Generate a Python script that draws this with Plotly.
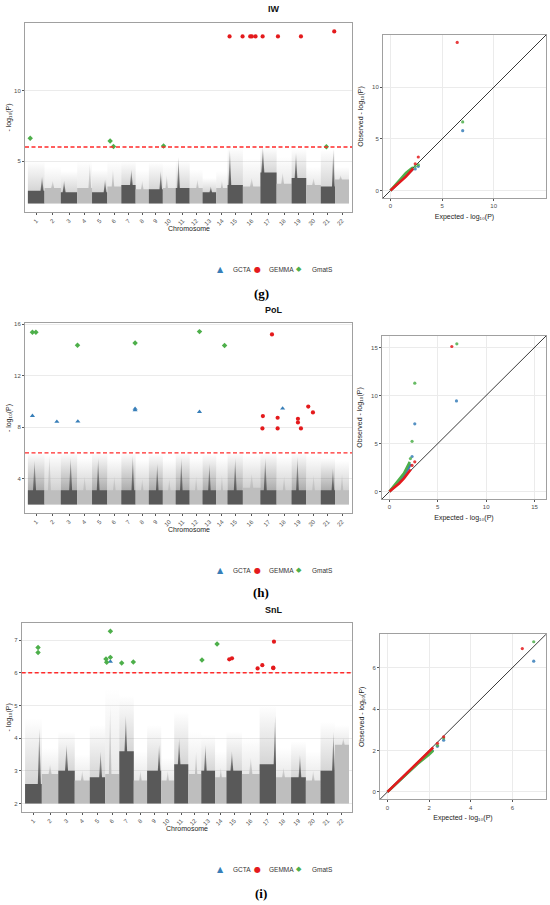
import plotly.graph_objects as go

W, H = 550, 905

# ---------------- data ----------------
chromosomes = [str(i) for i in range(1, 23)]
chr_len = [150, 147, 147, 134, 138, 126, 129, 119, 126, 116, 126, 116,
           123, 102, 138, 158, 146, 135, 132, 131, 128, 126]
min_logp = 2.0
threshold = 6.0
methods = ["GCTA", "GEMMA", "GmatS"]

# background SNP clouds (per chromosome): dense top, tower position (fraction), tower top, sparse top
iw_dense = [2.9, 3.1, 2.8, 3.1, 2.8, 3.2, 3.3, 3.0, 3.0, 3.1, 3.1, 3.1, 2.8, 3.1, 3.3, 3.2, 4.2, 3.4, 3.8, 3.3, 3.2, 3.7]
iw_peak_pos = [0.85, 0.5, 0.2, 0.85, 0.85, 0.4, 0.7, 0.5, 0.85, 0.3, 0.2, 0.6, 0.6, 0.5, 0.15, 0.5, 0.15, 0.4, 0.3, 0.5, 0.88, 0.4]
iw_peak = [3.9, 3.6, 3.6, 4.8, 3.7, 4.4, 4.4, 3.6, 4.3, 4.0, 5.3, 3.7, 3.2, 3.6, 5.8, 3.8, 6.0, 4.2, 5.6, 3.8, 5.9, 4.0]
iw_sparse = [5.0, 4.6, 4.3, 5.0, 4.4, 5.0, 5.0, 4.4, 4.9, 4.8, 5.0, 4.4, 3.8, 4.3, 6.0, 5.2, 6.0, 5.3, 5.9, 4.6, 5.8, 4.6]

pol_dense = [3.1, 3.1, 3.1, 3.1, 3.1, 3.1, 3.1, 3.1, 3.1, 3.1, 3.1, 3.1, 3.1, 3.1, 3.1, 3.3, 3.1, 3.1, 3.1, 3.1, 3.1, 3.1]
pol_peak_pos = [0.4, 0.3, 0.6, 0.5, 0.4, 0.5, 0.8, 0.5, 0.6, 0.5, 0.4, 0.5, 0.5, 0.5, 0.5, 0.5, 0.3, 0.5, 0.4, 0.5, 0.85, 0.5]
pol_peak = [5.4, 5.8, 5.6, 4.2, 5.6, 4.2, 5.8, 4.0, 5.2, 4.0, 5.6, 4.2, 5.2, 4.3, 5.6, 4.4, 5.6, 4.2, 5.7, 4.3, 4.8, 4.4]
pol_sparse = [6.0, 5.9, 6.0, 5.6, 6.0, 5.6, 6.0, 5.5, 5.9, 5.5, 6.0, 5.6, 5.9, 5.6, 6.0, 5.8, 6.0, 5.7, 6.0, 5.8, 5.6, 5.4]

snl_dense = [2.6, 2.9, 3.0, 2.7, 2.8, 2.9, 3.6, 2.7, 3.0, 2.7, 3.2, 2.9, 3.0, 2.8, 3.0, 2.9, 3.2, 2.8, 2.8, 2.7, 3.0, 3.8]
snl_peak_pos = [0.85, 0.5, 0.5, 0.5, 0.7, 0.35, 0.45, 0.5, 0.85, 0.5, 0.35, 0.6, 0.3, 0.5, 0.35, 0.5, 0.95, 0.5, 0.6, 0.5, 0.9, 0.6]
snl_peak = [4.3, 3.2, 3.8, 3.0, 3.6, 5.0, 4.7, 3.0, 3.8, 3.0, 4.0, 3.6, 3.8, 3.1, 3.6, 3.4, 4.7, 3.1, 3.5, 3.0, 4.2, 4.0]
snl_sparse = [4.6, 3.7, 4.2, 3.5, 4.4, 5.5, 5.3, 3.6, 4.4, 3.4, 4.8, 4.2, 4.1, 3.6, 4.2, 4.0, 5.0, 3.7, 3.9, 3.6, 4.5, 4.4]

# significant SNPs: chromosome, position (Mb), -log10(P)
iw_gcta_chr, iw_gcta_pos, iw_gcta_p = [], [], []
iw_gemma_chr = [15, 15, 16, 16, 16, 17, 18, 19, 21]
iw_gemma_pos = [18, 135, 66, 81, 114, 20, 12, 84, 121]
iw_gemma_p = [13.85, 13.85, 13.85, 13.85, 13.85, 13.85, 13.85, 13.85, 14.2]
iw_gmats_chr = [1, 6, 6, 10, 21]
iw_gmats_pos = [21, 25, 55, 6, 50]
iw_gmats_p = [6.62, 6.43, 6.04, 6.08, 6.02]

pol_gcta_chr = [1, 2, 4, 7, 7, 12, 18]
pol_gcta_pos = [41, 111, 6, 124, 124, 88, 54]
pol_gcta_p = [8.88, 8.42, 8.44, 9.43, 9.32, 9.19, 9.45]
pol_gemma_chr = [17, 17, 17, 18, 18, 19, 19, 19, 20, 20]
pol_gemma_pos = [104, 22, 18, 9, 9, 57, 57, 84, 18, 60]
pol_gemma_p = [15.2, 8.86, 7.9, 8.73, 7.9, 8.65, 8.37, 7.9, 9.6, 9.14]
pol_gmats_chr = [1, 1, 4, 7, 12, 14]
pol_gmats_pos = [41, 72, 3, 124, 88, 75]
pol_gmats_p = [15.37, 15.37, 14.36, 14.54, 15.42, 14.34]

snl_gcta_chr = [6]
snl_gcta_pos = [46]
snl_gcta_p = [6.34]
snl_gemma_chr = [15, 15, 16, 17, 17, 17, 17]
snl_gemma_pos = [25, 49, 140, 24, 122, 122, 128]
snl_gemma_p = [6.41, 6.44, 6.13, 6.23, 6.16, 6.14, 6.95]
snl_gmats_chr = [1, 1, 6, 6, 6, 6, 7, 7, 13, 14]
snl_gmats_pos = [116, 116, 7, 13, 46, 46, 21, 125, 6, 18]
snl_gmats_p = [6.77, 6.62, 6.42, 6.32, 7.27, 6.47, 6.3, 6.33, 6.39, 6.88]

# QQ plots: expected vs observed -log10(P); dense body and tail points
iw_qq_gcta_exp = [0, 0.5, 1.0, 1.5, 2.0, 2.2]
iw_qq_gcta_obs = [0, 0.5, 1.0, 1.5, 1.95, 2.1]
iw_qq_gcta_tail_exp = [2.4, 2.7, 7.0]
iw_qq_gcta_tail_obs = [2.1, 2.35, 5.8]
iw_qq_gemma_exp = [0, 0.5, 1.0, 1.5, 2.0, 2.2]
iw_qq_gemma_obs = [0, 0.42, 0.85, 1.35, 1.9, 2.15]
iw_qq_gemma_tail_exp = [2.4, 2.7, 6.47]
iw_qq_gemma_tail_obs = [2.6, 3.25, 14.35]
iw_qq_gmats_exp = [0, 0.5, 1.0, 1.5, 2.0, 2.2]
iw_qq_gmats_obs = [0, 0.58, 1.15, 1.7, 2.1, 2.25]
iw_qq_gmats_tail_exp = [2.4, 2.7, 7.0]
iw_qq_gmats_tail_obs = [2.35, 2.5, 6.65]

pol_qq_gcta_exp = [0, 0.5, 1.0, 1.5, 2.0, 2.2]
pol_qq_gcta_obs = [0, 0.55, 1.1, 1.7, 2.5, 2.9]
pol_qq_gcta_tail_exp = [2.34, 2.62, 6.93]
pol_qq_gcta_tail_obs = [3.65, 7.05, 9.43]
pol_qq_gemma_exp = [0, 0.5, 1.0, 1.5, 2.0, 2.2]
pol_qq_gemma_obs = [0, 0.42, 0.85, 1.38, 2.1, 2.3]
pol_qq_gemma_tail_exp = [2.34, 2.62, 6.45]
pol_qq_gemma_tail_obs = [2.72, 3.1, 15.1]
pol_qq_gmats_exp = [0, 0.5, 1.0, 1.5, 2.0, 2.1]
pol_qq_gmats_obs = [0, 0.62, 1.27, 1.9, 2.9, 3.1]
pol_qq_gmats_tail_exp = [2.17, 2.34, 2.62, 6.97]
pol_qq_gmats_tail_obs = [3.44, 5.23, 11.28, 15.38]

snl_qq_gcta_exp = [0, 0.5, 1.0, 1.5, 2.0, 2.2]
snl_qq_gcta_obs = [0, 0.48, 0.95, 1.4, 1.9, 2.05]
snl_qq_gcta_tail_exp = [2.4, 2.7, 7.03]
snl_qq_gcta_tail_obs = [2.2, 2.5, 6.32]
snl_qq_gemma_exp = [0, 0.5, 1.0, 1.5, 2.0, 2.2]
snl_qq_gemma_obs = [0, 0.5, 1.0, 1.5, 2.0, 2.15]
snl_qq_gemma_tail_exp = [2.4, 2.7, 6.48]
snl_qq_gemma_tail_obs = [2.35, 2.66, 6.93]
snl_qq_gmats_exp = [0, 0.5, 1.0, 1.5, 2.0, 2.2]
snl_qq_gmats_obs = [0, 0.47, 0.93, 1.4, 1.8, 2.0]
snl_qq_gmats_tail_exp = [2.4, 2.7, 7.03]
snl_qq_gmats_tail_obs = [2.25, 2.6, 7.26]

# ---------------- styling / layout ----------------
FONT = "Liberation Sans, DejaVu Sans, Arial, sans-serif"
DARK = (89, 89, 89)
LIGHT = (190, 190, 190)
COLORS = {"GCTA": "#377EB8", "GEMMA": "#E41A1C", "GmatS": "#4DAF4A"}
SYMBOLS = {"GCTA": "triangle-up", "GEMMA": "circle", "GmatS": "diamond"}
MSIZE = {"GCTA": 4.5, "GEMMA": 4.2, "GmatS": 4.2}
LEG_GLYPH = {"GCTA": "\u25B2", "GEMMA": "\u25CF", "GmatS": "\u25C6"}
FRAME = "#a0a0a0"
GRID = "#ebebeb"
LOGP = "- log\u2081\u2080(P)"


def rgba(c, a):
    return f"rgba({c[0]},{c[1]},{c[2]},{a})"


def pxx(x):
    return x / W


def pyy(y):
    return 1 - y / H


def axid(letter, n):
    return letter if n == 1 else f"{letter}{n}"


starts = []
acc = 0
for L in chr_len:
    starts.append(acc)
    acc += L
total_len = acc
centers = [s + L / 2 for s, L in zip(starts, chr_len)]

panels = [
    dict(trait="IW", tag="(g)",
         cloud=(iw_dense, iw_peak_pos, iw_peak, iw_sparse),
         sig={"GCTA": (iw_gcta_chr, iw_gcta_pos, iw_gcta_p),
              "GEMMA": (iw_gemma_chr, iw_gemma_pos, iw_gemma_p),
              "GmatS": (iw_gmats_chr, iw_gmats_pos, iw_gmats_p)},
         qq={"GCTA": (iw_qq_gcta_exp, iw_qq_gcta_obs, iw_qq_gcta_tail_exp, iw_qq_gcta_tail_obs),
             "GEMMA": (iw_qq_gemma_exp, iw_qq_gemma_obs, iw_qq_gemma_tail_exp, iw_qq_gemma_tail_obs),
             "GmatS": (iw_qq_gmats_exp, iw_qq_gmats_obs, iw_qq_gmats_tail_exp, iw_qq_gmats_tail_obs)},
         man_box=(25, 23, 352, 212), qq_box=(383, 35, 546, 198),
         y_range=[1.39, 14.8], y_ticks=[5, 10], qq_range=[-0.72, 15.07], qq_ticks=[0, 5, 10],
         title_y=9, legend_y=269, tag_y=294, alpha=0.25, xpad=(-26, 27)),
    dict(trait="PoL", tag="(h)",
         cloud=(pol_dense, pol_peak_pos, pol_peak, pol_sparse),
         sig={"GCTA": (pol_gcta_chr, pol_gcta_pos, pol_gcta_p),
              "GEMMA": (pol_gemma_chr, pol_gemma_pos, pol_gemma_p),
              "GmatS": (pol_gmats_chr, pol_gmats_pos, pol_gmats_p)},
         qq={"GCTA": (pol_qq_gcta_exp, pol_qq_gcta_obs, pol_qq_gcta_tail_exp, pol_qq_gcta_tail_obs),
             "GEMMA": (pol_qq_gemma_exp, pol_qq_gemma_obs, pol_qq_gemma_tail_exp, pol_qq_gemma_tail_obs),
             "GmatS": (pol_qq_gmats_exp, pol_qq_gmats_obs, pol_qq_gmats_tail_exp, pol_qq_gmats_tail_obs)},
         man_box=(25, 323, 352, 513), qq_box=(382, 336, 546, 499),
         y_range=[1.33, 16.09], y_ticks=[4, 8, 12, 16], qq_range=[-0.77, 16.19], qq_ticks=[0, 5, 10, 15],
         title_y=310, legend_y=570, tag_y=592, alpha=0.5, xpad=(-26, 27)),
    dict(trait="SnL", tag="(i)",
         cloud=(snl_dense, snl_peak_pos, snl_peak, snl_sparse),
         sig={"GCTA": (snl_gcta_chr, snl_gcta_pos, snl_gcta_p),
              "GEMMA": (snl_gemma_chr, snl_gemma_pos, snl_gemma_p),
              "GmatS": (snl_gmats_chr, snl_gmats_pos, snl_gmats_p)},
         qq={"GCTA": (snl_qq_gcta_exp, snl_qq_gcta_obs, snl_qq_gcta_tail_exp, snl_qq_gcta_tail_obs),
             "GEMMA": (snl_qq_gemma_exp, snl_qq_gemma_obs, snl_qq_gemma_tail_exp, snl_qq_gemma_tail_obs),
             "GmatS": (snl_qq_gmats_exp, snl_qq_gmats_obs, snl_qq_gmats_tail_exp, snl_qq_gmats_tail_obs)},
         man_box=(21.7, 622.7, 352, 812), qq_box=(380, 634.3, 546, 799.3),
         y_range=[1.74, 7.53], y_ticks=[2, 3, 4, 5, 6, 7], qq_range=[-0.36, 7.62], qq_ticks=[0, 2, 4, 6],
         title_y=610, legend_y=869, tag_y=893, alpha=0.25, xpad=(-30, 27)),
]

fig = go.Figure()
layout = dict(width=W, height=H, margin=dict(l=0, r=0, t=0, b=0),
              paper_bgcolor="white", plot_bgcolor="white", showlegend=False,
              font=dict(family=FONT, color="#333333"))
annotations = []
shapes = []

tickfont = dict(family=FONT, size=6, color="#4d4d4d")
titlefont = dict(family=FONT, size=7, color="#222222")


def note(text, x, y, size, color="#222222", family=FONT, angle=0, xanchor="center", weight="normal"):
    annotations.append(dict(text=text, x=pxx(x), y=pyy(y), xref="paper", yref="paper",
                            showarrow=False, xanchor=xanchor, yanchor="middle",
                            textangle=angle,
                            font=dict(family=family, size=size, color=color, weight=weight)))


for i, P in enumerate(panels):
    mx, qx = 2 * i + 1, 2 * i + 2
    mxa, mya = axid("x", mx), axid("y", mx)
    qxa, qya = axid("x", qx), axid("y", qx)
    dense, ppos, peak, sparse = P["cloud"]

    # --- Manhattan clouds ---
    for k in range(22):
        s = starts[k]
        L = chr_len[k]
        e = s + L
        col = DARK if k % 2 == 0 else LIGHT
        a = P["alpha"] if k % 2 == 0 else P["alpha"] * 1.4
        # faint scattered layer
        f_s = (dense[k] - min_logp) / (sparse[k] - min_logp)
        fig.add_trace(go.Scatter(
            x=[s, s, e, e, s], y=[min_logp, sparse[k], sparse[k], min_logp, min_logp],
            xaxis=mxa, yaxis=mya, mode="lines", fill="toself",
            line=dict(width=0, color="rgba(0,0,0,0)"),
            fillgradient=dict(type="vertical", start=min_logp, stop=sparse[k],
                              colorscale=[[0, rgba(col, a)], [f_s, rgba(col, a)],
                                          [1, rgba(col, 0)]]),
            hoverinfo="skip", showlegend=False))
        # dense block + tower
        p = s + ppos[k] * L
        w = 0.09 * L
        xs = [s, s, max(s, p - w), p, min(e, p + w), e, e, s]
        ys = [min_logp, dense[k], dense[k], peak[k], dense[k], dense[k], min_logp, min_logp]
        top = max(peak[k], dense[k] + 0.01)
        f_d = (dense[k] - min_logp) / (top - min_logp)
        fig.add_trace(go.Scatter(
            x=xs, y=ys, xaxis=mxa, yaxis=mya, mode="lines", fill="toself",
            line=dict(width=0, color="rgba(0,0,0,0)"),
            fillgradient=dict(type="vertical", start=min_logp, stop=top,
                              colorscale=[[0, rgba(col, 1)], [f_d, rgba(col, 1)], [1, rgba(col, 0.3)]]),
            hoverinfo="skip", showlegend=False))

    # --- significant SNPs ---
    for m in methods:
        chs, pos, pv = P["sig"][m]
        xs = [starts[c - 1] + q for c, q in zip(chs, pos)]
        fig.add_trace(go.Scatter(
            x=xs, y=pv, xaxis=mxa, yaxis=mya, mode="markers", name=m,
            marker=dict(symbol=SYMBOLS[m], size=MSIZE[m], color=COLORS[m], line=dict(width=0)),
            showlegend=False))

    # --- QQ plot ---
    lo, hi = P["qq_range"]
    fig.add_trace(go.Scatter(x=[lo - 1, hi + 1], y=[lo - 1, hi + 1], xaxis=qxa, yaxis=qya,
                             mode="lines", line=dict(color="#222222", width=0.9),
                             hoverinfo="skip", showlegend=False))
    for m in ["GCTA", "GmatS", "GEMMA"]:
        ex, ob, tex, tob = P["qq"][m]
        fig.add_trace(go.Scatter(x=ex, y=ob, xaxis=qxa, yaxis=qya, mode="lines",
                                 line=dict(color=COLORS[m], width=2.6),
                                 hoverinfo="skip", showlegend=False))
        fig.add_trace(go.Scatter(x=tex, y=tob, xaxis=qxa, yaxis=qya, mode="markers",
                                 marker=dict(color=COLORS[m], size=3.2, opacity=0.85),
                                 showlegend=False))

    # --- axes ---
    x0, y0, x1, y1 = P["man_box"]
    common = dict(showline=True, mirror=True, linecolor=FRAME, linewidth=1, zeroline=False,
                  ticks="outside", ticklen=2, tickcolor="#555555", tickwidth=0.8,
                  tickfont=tickfont, fixedrange=True, automargin=False)
    layout[axid("xaxis", mx)] = dict(domain=[pxx(x0), pxx(x1)], anchor=mya,
                                     range=[P["xpad"][0], total_len + P["xpad"][1]],
                                     tickmode="array", tickvals=centers, ticktext=chromosomes,
                                     tickangle=-45, showgrid=False, **common)
    layout[axid("yaxis", mx)] = dict(domain=[pyy(y1), pyy(y0)], anchor=mxa, range=P["y_range"],
                                     tickmode="array", tickvals=P["y_ticks"],
                                     showgrid=True, gridcolor=GRID, gridwidth=1,
                                     title=dict(text=LOGP, font=titlefont, standoff=1),
                                     **common)
    qx0, qy0, qx1, qy1 = P["qq_box"]
    layout[axid("xaxis", qx)] = dict(domain=[pxx(qx0), pxx(qx1)], anchor=qya, range=P["qq_range"],
                                     tickmode="array", tickvals=P["qq_ticks"],
                                     showgrid=True, gridcolor=GRID, gridwidth=1,
                                     title=dict(text="Expected " + LOGP, font=titlefont, standoff=5),
                                     **common)
    layout[axid("yaxis", qx)] = dict(domain=[pyy(qy1), pyy(qy0)], anchor=qxa, range=P["qq_range"],
                                     tickmode="array", tickvals=P["qq_ticks"],
                                     showgrid=True, gridcolor=GRID, gridwidth=1,
                                     title=dict(text="Observed " + LOGP, font=titlefont, standoff=7),
                                     **common)

    # threshold line
    shapes.append(dict(type="line", xref=f"{mxa} domain", x0=0, x1=1, yref=mya,
                       y0=threshold, y1=threshold, layer="above",
                       line=dict(color="#ff2a2a", width=1.4, dash="4px,2.5px")))

    # --- texts ---
    note(P["trait"], 274, P["title_y"], 9, "#111111", weight="bold")
    note("Chromosome", (x0 + x1) / 2, y1 + 16.5, 7)
    note(P["tag"], 261, P["tag_y"], 13, "#000000", family="Liberation Serif, serif", weight="bold")
    # legend (glyph + label)
    leg_x = {"GCTA": (220, 231), "GEMMA": (257, 267), "GmatS": (299, 310)}
    gsize = {"GCTA": 8, "GEMMA": 8, "GmatS": 7}
    for m in methods:
        gx, tx = leg_x[m]
        note(LEG_GLYPH[m], gx, P["legend_y"], gsize[m], COLORS[m], family="DejaVu Sans")
        note(m, tx, P["legend_y"], 6.5, "#333333", xanchor="left")

layout["annotations"] = annotations
layout["shapes"] = shapes
fig.update_layout(**layout)
fig.write_html("out.html", config={"displayModeBar": False},
               post_script="document.body.style.margin='0px';")
